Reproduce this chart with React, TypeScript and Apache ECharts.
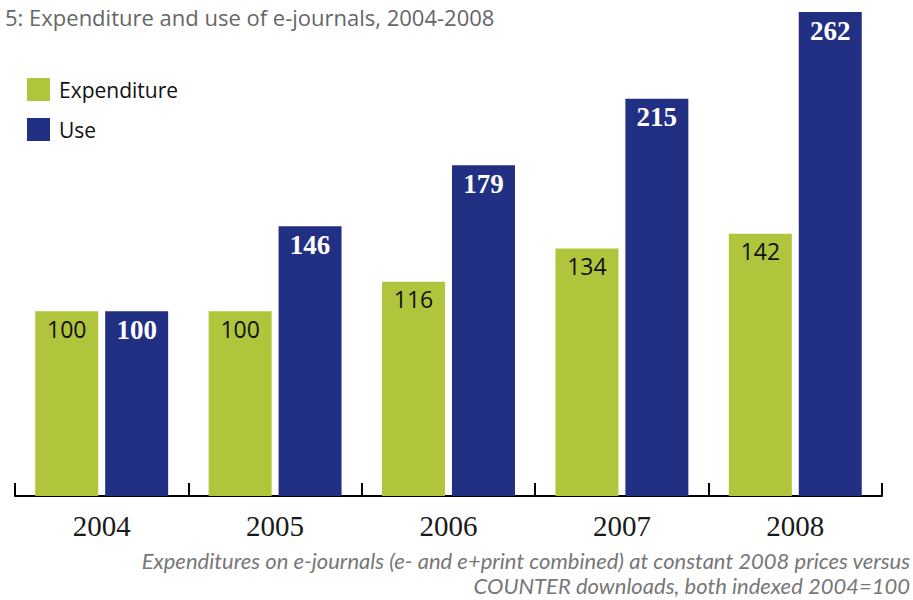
import React, { useEffect, useRef } from "react";
import * as echarts from "echarts";

const categories = ["2004", "2005", "2006", "2007", "2008"];
const expenditure = [100, 100, 116, 134, 142];
const use = [100, 146, 179, 215, 262];
const titleText = "5: Expenditure and use of e-journals, 2004-2008";
const noteLines = [
  "Expenditures on e-journals (e- and e+print combined) at constant 2008 prices versus",
  "COUNTER downloads, both indexed 2004=100",
];

export default function App() {
  const ref = useRef<HTMLDivElement>(null);
  useEffect(() => {
    document.body.style.margin = "0";
    if (!ref.current) return;
    const chart = echarts.init(ref.current, null, { renderer: "svg" });
    chart.setOption({
      animation: false,
      backgroundColor: "#ffffff",
      title: {
        text: titleText,
        left: 0,
        top: 1,
        textStyle: {
          fontFamily: "Open Sans",
          fontWeight: "normal",
          fontSize: 22,
          color: "#666666",
        },
      },
      legend: {
        orient: "vertical",
        left: 22,
        top: 73,
        itemWidth: 23,
        itemHeight: 23,
        itemGap: 17,
        icon: "rect",
        textStyle: {
          fontFamily: "Open Sans",
          fontSize: 21,
          color: "#111111",
          padding: [0, 0, 0, 4],
        },
      },
      grid: { left: 15, right: 31, top: 12, bottom: 104, containLabel: false },
      xAxis: {
        type: "category",
        data: categories,
        axisLine: { lineStyle: { color: "#000000", width: 2 } },
        axisTick: { show: true, inside: true, length: 13, lineStyle: { color: "#000000", width: 2 } },
        axisLabel: {
          fontFamily: "Liberation Serif",
          fontSize: 29,
          color: "#1a1a1a",
          margin: 15,
        },
      },
      yAxis: {
        type: "value",
        min: 0,
        max: 262,
        show: false,
        splitLine: { show: false },
      },
      series: [
        {
          name: "Expenditure",
          type: "bar",
          data: expenditure,
          barWidth: 63,
          barGap: "11%",
          itemStyle: { color: "#B0C43C" },
          label: {
            show: true,
            position: "insideTop",
            distance: 6,
            fontFamily: "Open Sans",
            fontSize: 23,
            color: "#111111",
          },
        },
        {
          name: "Use",
          type: "bar",
          data: use,
          barWidth: 63,
          itemStyle: { color: "#223084" },
          label: {
            show: true,
            position: "insideTop",
            distance: 5,
            fontFamily: "Liberation Serif",
            fontWeight: "bold",
            fontSize: 27,
            color: "#ffffff",
          },
        },
      ],
      graphic: [
        {
          type: "text",
          x: 910,
          y: 548,
          style: {
            text: noteLines.join("\n"),
            fontFamily: "Lato",
            fontStyle: "italic",
            fontSize: 22,
            lineHeight: 25,
            fill: "#777777",
            align: "right",
            verticalAlign: "top",
          },
        },
      ],
    });
    return () => chart.dispose();
  }, []);
  return <div ref={ref} style={{ width: 913, height: 600 }} />;
}
